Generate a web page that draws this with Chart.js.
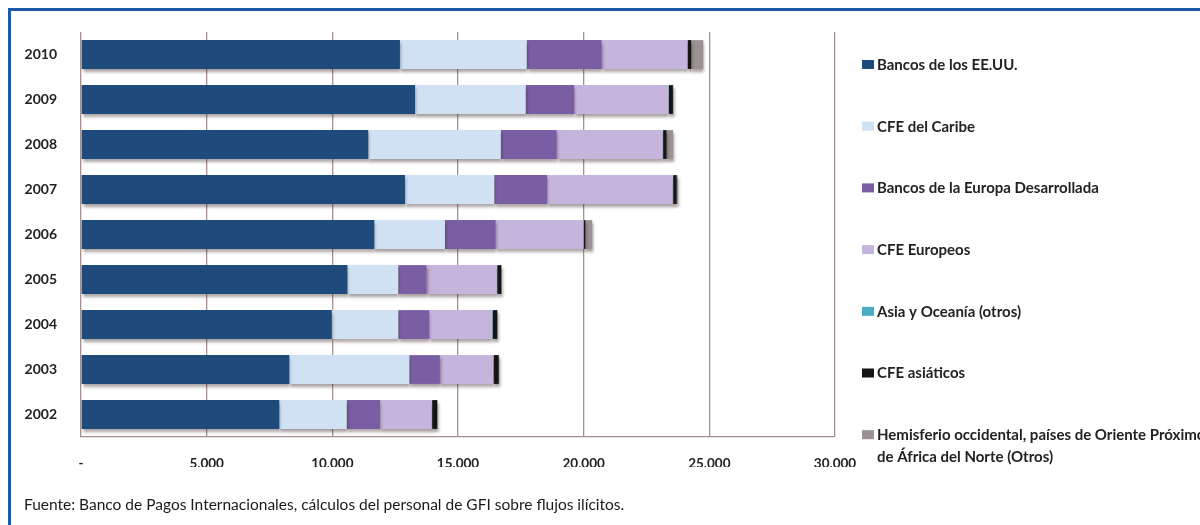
<!DOCTYPE html>
<html>
<head>
<meta charset="utf-8">
<script src="https://cdn.jsdelivr.net/npm/chart.js@4.4.1/dist/chart.umd.min.js"></script>
<style>
  html, body { margin:0; padding:0; background:#fff; }
  #wrap { width:1200px; height:525px; position:relative; }
</style>
</head>
<body>
<div id="wrap"><canvas id="myChart" width="1200" height="525"></canvas></div>
<script>
// años (de arriba a abajo)
const years = ['2010','2009','2008','2007','2006','2005','2004','2003','2002'];

// series (millones de USD)
const bancosEEUU    = [12690, 13290, 11430, 12890, 11670, 10600, 9980, 8290, 7890];
const cfeCaribe     = [5040, 4400, 5270, 3550, 2810, 2020, 2640, 4770, 2680];
const bancosEuropa  = [2990, 1940, 2230, 2110, 2020, 1130, 1240, 1220, 1330];
const cfeEuropeos   = [3400, 3740, 4210, 4990, 3490, 2790, 2500, 2120, 2050];
const asiaOceania   = [20, 20, 20, 20, 20, 20, 20, 20, 20];
const cfeAsiaticos  = [140, 160, 140, 140, 60, 160, 180, 200, 200];
const hemisferioOtros = [480, 20, 260, 40, 270, 20, 20, 20, 20];

const xTicks = [0, 5000, 10000, 15000, 20000, 25000, 30000];

const seriesNames = [
  'Bancos de los EE.UU.',
  'CFE del Caribe',
  'Bancos de la Europa Desarrollada',
  'CFE Europeos',
  'Asia y Oceanía (otros)',
  'CFE asiáticos',
  ['Hemisferio occidental, países de Oriente Próximo y', 'de África del Norte (Otros)']
];
const colors = ['#1f4a7c','#cfe1f2','#7a5ea4','#c5b5dc','#4bacc6','#151515','#9c9294'];
const seriesData = [bancosEEUU, cfeCaribe, bancosEuropa, cfeEuropeos, asiaOceania, cfeAsiaticos, hemisferioOtros];

const FONT = "Lato, 'Open Sans', sans-serif";

// 5000 -> "5,000"
const fmt = v => String(v).replace(/\B(?=(\d{3})+(?!\d))/g, ',');

// sombra bajo las barras
const shadowPlugin = {
  id:'shadow',
  beforeDatasetsDraw(chart){
    const c = chart.ctx;
    c.save();
    c.shadowColor = 'rgba(60,40,40,0.45)';
    c.shadowOffsetX = 1;
    c.shadowOffsetY = 3;
    c.shadowBlur = 3;
  },
  afterDatasetsDraw(chart){ chart.ctx.restore(); }
};

// marco, leyenda y fuente
const extras = {
  id:'extras',
  beforeDraw(chart){
    const c = chart.ctx;
    c.save();
    c.fillStyle = '#fff';
    c.fillRect(0,0,chart.width,chart.height);
    c.strokeStyle = '#1a5aa6';
    c.lineWidth = 3;
    c.strokeRect(9.5, 9.5, 1400, 700);
    c.restore();
  },
  afterDraw(chart){
    const c = chart.ctx;
    c.save();
    c.textBaseline = 'middle';
    c.font = "bold 15px " + FONT;
    chart.data.datasets.forEach((ds, i) => {
      const y = 65 + i * 61.7;
      c.fillStyle = ds.backgroundColor;
      c.fillRect(862, y - 5, 12, 9);
      c.fillStyle = '#222';
      const lab = Array.isArray(ds.label) ? ds.label : [ds.label];
      lab.forEach((t, j) => c.fillText(t, 877, y + j * 22));
    });
    c.font = "15.5px " + FONT;
    c.fillStyle = '#1a1a1a';
    c.fillText('Fuente: Banco de Pagos Internacionales, cálculos del personal de GFI sobre flujos ilícitos.', 24, 505);
    c.restore();
  }
};

new Chart(document.getElementById('myChart').getContext('2d'), {
  type:'bar',
  data:{
    labels: years,
    datasets: seriesData.map((d, i) => ({
      label: seriesNames[i],
      data: d,
      backgroundColor: colors[i],
      borderWidth: 0,
      barPercentage: 0.64,
      categoryPercentage: 1.0
    }))
  },
  options:{
    indexAxis:'y',
    responsive:false,
    animation:false,
    devicePixelRatio:1,
    layout:{ padding:{ left:0, right:365, top:32, bottom:58 } },
    plugins:{ legend:{ display:false }, tooltip:{ enabled:false } },
    scales:{
      x:{
        stacked:true,
        min:0, max:30000,
        afterBuildTicks(scale){ scale.ticks = xTicks.map(v => ({value:v})); },
        afterFit(scale){ scale.height = 30; },
        grid:{ color:'#a2918d', lineWidth:1.3, drawTicks:false },
        border:{ color:'#a2918d', width:1.3 },
        ticks:{
          padding:19,
          color:'#222',
          font:{ family:FONT, size:13.5, weight:'bold' },
          callback:(v) => v === 0 ? '-' : fmt(v)
        }
      },
      y:{
        stacked:true,
        afterFit(scale){ scale.width = 81; },
        grid:{ display:false },
        border:{ display:false },
        ticks:{
          padding:16,
          color:'#222',
          font:{ family:FONT, size:14, weight:'bold' }
        }
      }
    }
  },
  plugins:[shadowPlugin, extras]
});
</script>
</body>
</html>
